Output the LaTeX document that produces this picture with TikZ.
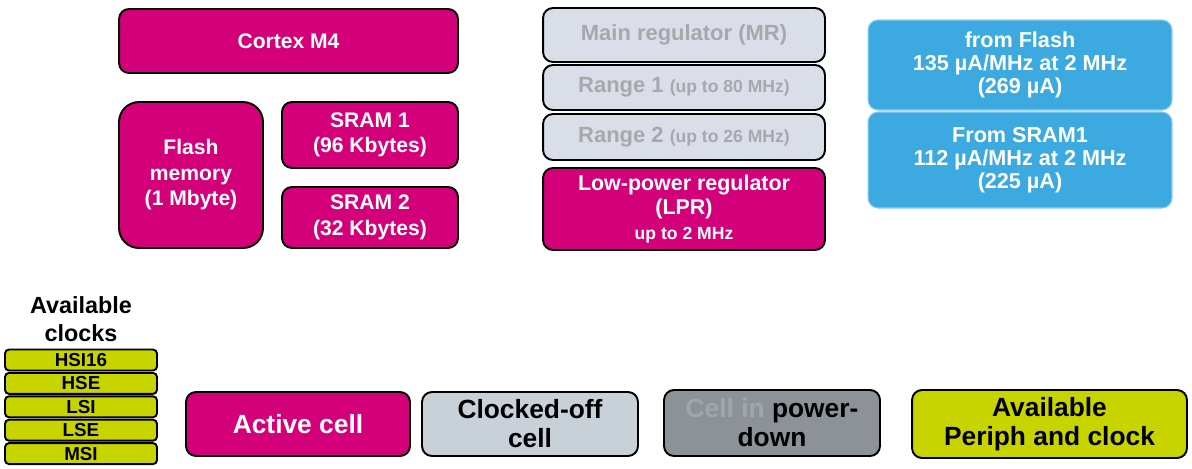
\documentclass[tikz,border=0pt]{standalone}
\usepackage{fontspec}
\setmainfont{Liberation Sans}
\usepackage{xcolor}
\definecolor{stmag}{RGB}{212,0,122}
\definecolor{stoff}{RGB}{200,208,216}
\definecolor{streg}{RGB}{218,222,232}
\definecolor{stdown}{RGB}{140,146,152}
\definecolor{stlime}{RGB}{200,212,0}
\definecolor{stblue}{RGB}{60,170,225}
\definecolor{stgreytxt}{RGB}{168,168,170}
\definecolor{stdowntxt}{RGB}{160,166,172}
\usepackage{tikz}
\usetikzlibrary{positioning}
\tikzstyle{box} = [
    rectangle, align=center,
    rounded corners=0.2cm,
    line width=1.1pt,
    draw=black,
    inner sep=1pt,
    font=\bfseries\fontsize{12}{14.5}\selectfont,
]
\tikzstyle{active} = [
    box,
    fill=stmag,
    text=white,
]
\tikzstyle{regulator} = [
    box,
    minimum width=5.64cm,
    fill=streg,
    text=stgreytxt,
    font=\bfseries\fontsize{12.5}{14}\selectfont,
]
\tikzstyle{current} = [
    box,
    minimum width=6.08cm,
    fill=stblue,
    draw=stblue!60!white,
    line width=0.6pt,
    text=white,
    font=\bfseries\fontsize{12.3}{13}\selectfont,
]
\tikzstyle{clock} = [
    box,
    rounded corners=0.08cm,
    minimum width=3.04cm,
    minimum height=0.42cm,
    fill=stlime,
    inner sep=0pt,
    font=\bfseries\fontsize{10.7}{11}\selectfont,
]
\tikzstyle{legend} = [
    box,
    minimum height=1.28cm,
    font=\bfseries\fontsize{15}{16.5}\selectfont,
]
\newcommand{\rangetxt}{\fontsize{10}{11}\selectfont}

\begin{document}
\begin{tikzpicture}[x=0.02cm, y=-0.02cm]
    \useasboundingbox (0,0) rectangle (1192,468);

    % memories and core
    \node (cortex) at (288.5,41) [active, minimum width=6.78cm, minimum height=1.28cm] {Cortex M4};
    \node (flash) at (191,175) [active, rounded corners=0.4cm, minimum width=2.88cm, minimum height=2.92cm] {Flash\\memory\\(1 Mbyte)};
    \node (sram1) at (370,135) [active, minimum width=3.52cm, minimum height=1.32cm] {SRAM 1\\(96 Kbytes)};
    \node (sram2) at (370,217.5) [active, minimum width=3.52cm, minimum height=1.22cm] {SRAM 2\\(32 Kbytes)};

    % regulators
    \node (mr) at (684,35) [regulator, minimum height=1.08cm] {Main regulator (MR)};
    \node (range1) at (684,87.5) [regulator, minimum height=0.9cm] {Range 1 {\rangetxt(up to 80 MHz)}};
    \node (range2) at (684,137) [regulator, minimum height=0.92cm] {Range 2 {\rangetxt(up to 26 MHz)}};
    \node (lpr) at (684,209) [active, minimum width=5.64cm, minimum height=1.64cm,
        font=\bfseries\fontsize{12.2}{14}\selectfont] {Low-power regulator\\(LPR)\\{\fontsize{10}{12}\selectfont up to 2 MHz}};

    % consumption
    \node (fromflash) at (1020,65) [current, minimum height=1.8cm] {from Flash\\135 µA/MHz at 2 MHz\\(269 µA)};
    \node (fromsram) at (1020,160) [current, minimum height=1.92cm] {From SRAM1\\112 µA/MHz at 2 MHz\\(225 µA)};

    % clocks
    \node (clocks) at (81,319) [align=center, font=\bfseries\fontsize{13.3}{16}\selectfont] {Available\\clocks};
    \foreach \clk [count=\i from 0] in {HSI16,HSE,LSI,LSE,MSI} {
        \node (\clk) at (81, 360+23.4*\i) [clock] {\clk};
    }

    % legend
    \node (activecell) at (298,424) [legend, active, minimum width=4.48cm, font=\bfseries\fontsize{15}{16.5}\selectfont] {Active cell};
    \node (clockedoff) at (530,424) [legend, fill=stoff, minimum width=4.32cm] {Clocked-off\\cell};
    \node (powerdown) at (772,423) [legend, fill=stdown, minimum width=4.32cm, minimum height=1.32cm] {\textcolor{stdowntxt}{Cell in} power-\\down};
    \node (periph) at (1049.5,424) [legend, fill=stlime, minimum width=5.5cm, minimum height=1.36cm] {Available\\Periph and clock};

\end{tikzpicture}
\end{document}
